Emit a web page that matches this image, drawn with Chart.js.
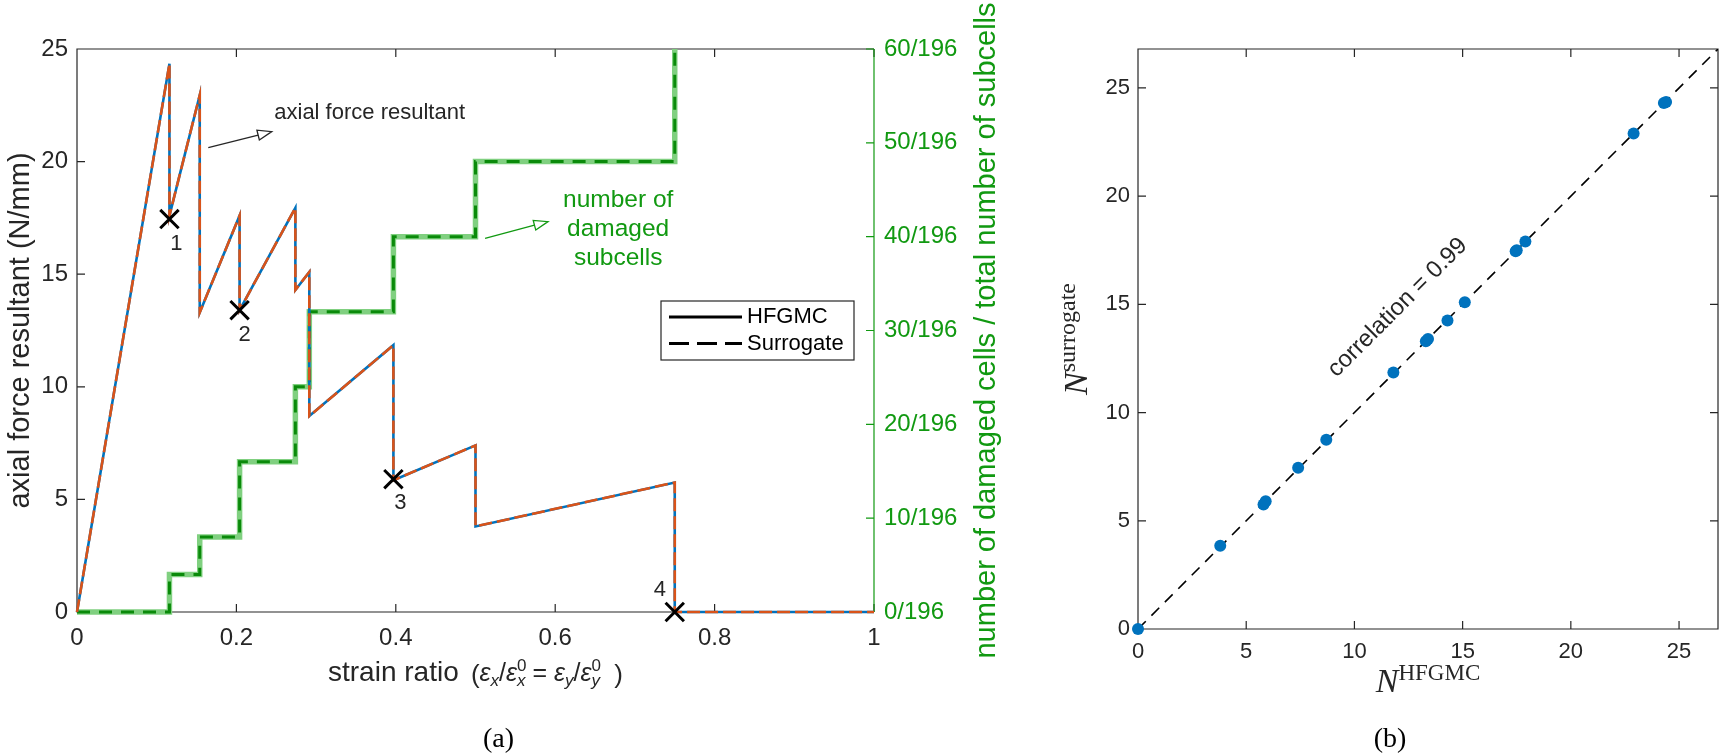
<!DOCTYPE html>
<html lang="en">
<head>
<meta charset="UTF-8">
<title>Axial force resultant and damaged subcells</title>
<script src="https://cdn.jsdelivr.net/npm/chart.js"></script>
<style>
    body { margin: 0; background: #fff; }
    #panelA { position: absolute; left: 0; top: 0; width: 1010px; height: 754px; }
    #panelB { position: absolute; left: 1010px; top: 0; width: 715px; height: 754px; }
</style>
</head>
<body>

<div id="panelA"><canvas id="forceChart"></canvas></div>
<div id="panelB"><canvas id="corrChart"></canvas></div>

<script>
// ---- panel (a): force resultant vs strain ratio ----
const strain         = [0, 0.116, 0.116, 0.154, 0.154, 0.204, 0.204, 0.274, 0.274, 0.2915, 0.2915, 0.397, 0.397, 0.5, 0.5, 0.75, 0.75, 1];
const forceHFGMC     = [0, 24.35, 17.6, 22.95, 13.3, 17.6, 13.4, 17.95, 14.3, 15.1, 8.7, 11.85, 5.85, 7.4, 3.8, 5.75, 0, 0];
const forceSurrogate = [0, 24.35, 17.6, 22.95, 13.3, 17.6, 13.4, 17.95, 14.3, 15.1, 8.7, 11.85, 5.85, 7.4, 3.8, 5.75, 0, 0];

// damaged subcells (out of 196), step changes
const damageStrain     = [0, 0.116, 0.154, 0.204, 0.274, 0.2915, 0.397, 0.5, 0.75];
const damagedHFGMC     = [0, 4, 8, 16, 24, 32, 40, 48, 66];
const damagedSurrogate = [0, 4, 8, 16, 24, 32, 40, 48, 66];

// marked states 1..4
const markStrain = [0.116, 0.204, 0.397, 0.75];
const markForce  = [17.45, 13.4, 5.9, 0];
const markLabels = ['1', '2', '3', '4'];

// ---- panel (b): surrogate vs HFGMC force ----
const nHFGMC     = [0, 3.8, 5.8, 5.9, 7.4, 8.7, 11.8, 13.3, 13.4, 14.3, 15.1, 17.45, 17.5, 17.9, 22.9, 24.3, 24.4];
const nSurrogate = [0, 3.85, 5.75, 5.9, 7.45, 8.75, 11.85, 13.3, 13.4, 14.25, 15.1, 17.45, 17.5, 17.9, 22.9, 24.3, 24.35];
const nLimit = 26.8;
const diagLine = [0, nLimit];
const correlation = 0.99;

// ---- styles ----
const ink = '#262626';
const green = '#119911';
const darkGreen = '#0a8a0a';
const lightGreen = '#80d080';
const orange = '#D95319';
const blue = '#0072BD';
const sans = '"Liberation Sans", Arial, sans-serif';
const serif = '"Liberation Serif", "Times New Roman", serif';
const tickLen = 8;

const pts = (xs, ys) => xs.map((x, i) => ({ x: x, y: ys[i] }));

function arrow(ctx, x0, y0, x1, y1, color) {
    const len = Math.hypot(x1 - x0, y1 - y0);
    const ux = (x1 - x0) / len, uy = (y1 - y0) / len;
    const L = 14, W = 5;
    const bx = x1 - ux * L, by = y1 - uy * L;
    ctx.save();
    ctx.strokeStyle = color;
    ctx.lineWidth = 1.3;
    ctx.beginPath();
    ctx.moveTo(x0, y0);
    ctx.lineTo(bx, by);
    ctx.stroke();
    ctx.beginPath();
    ctx.moveTo(x1, y1);
    ctx.lineTo(bx - uy * W, by + ux * W);
    ctx.lineTo(bx + uy * W, by - ux * W);
    ctx.closePath();
    ctx.fillStyle = '#fff';
    ctx.fill();
    ctx.stroke();
    ctx.restore();
}

// text made of runs (sub/superscripts), drawn from x along baseline y
function runsWidth(ctx, runs) {
    let w = 0;
    runs.forEach(r => { ctx.font = r.font; if (r.adv !== false) w += ctx.measureText(r.t).width; });
    return w;
}
function drawRuns(ctx, runs, x, y) {
    ctx.textAlign = 'left';
    ctx.textBaseline = 'alphabetic';
    runs.forEach(r => {
        ctx.font = r.font;
        ctx.fillText(r.t, x, y + (r.dy || 0));
        if (r.adv !== false) x += ctx.measureText(r.t).width;
    });
}

const F = 25, S = 17;
const strainTitle = [
    { t: 'strain ratio', font: `28px ${sans}` },
    { t: '  ', font: `22px ${sans}` },
    { t: '(', font: `26px ${sans}`, dy: 2 },
    { t: 'ε', font: `italic ${F}px ${sans}` },
    { t: 'x', font: `italic ${S}px ${sans}`, dy: 5 },
    { t: '/', font: `${F}px ${sans}` },
    { t: 'ε', font: `italic ${F}px ${sans}` },
    { t: '0', font: `${S}px ${sans}`, dy: -10, adv: false },
    { t: 'x', font: `italic ${S}px ${sans}`, dy: 5 },
    { t: ' = ', font: `${F}px ${sans}` },
    { t: 'ε', font: `italic ${F}px ${sans}` },
    { t: 'y', font: `italic ${S}px ${sans}`, dy: 5 },
    { t: '/', font: `${F}px ${sans}` },
    { t: 'ε', font: `italic ${F}px ${sans}` },
    { t: '0', font: `${S}px ${sans}`, dy: -10, adv: false },
    { t: 'y', font: `italic ${S}px ${sans}`, dy: 5 },
    { t: '  )', font: `26px ${sans}`, dy: 2 }
];
const titleHFGMC = [
    { t: 'N', font: `italic 34px ${serif}` },
    { t: 'HFGMC', font: `23px ${serif}`, dy: -12 }
];
const titleSurrogate = [
    { t: 'N', font: `italic 34px ${serif}` },
    { t: 'surrogate', font: `24px ${serif}`, dy: -12 }
];

// ---------- panel (a) drawing ----------
const panelAPlugin = {
    id: 'panelAPlugin',
    beforeDatasetsDraw(chart) {
        const { ctx, chartArea: a, scales: { x, y, y2 } } = chart;
        ctx.save();
        ctx.lineWidth = 1.2;
        ctx.strokeStyle = ink;
        ctx.beginPath();
        x.ticks.forEach(t => {
            const px = x.getPixelForValue(t.value);
            ctx.moveTo(px, a.bottom); ctx.lineTo(px, a.bottom - tickLen);
            ctx.moveTo(px, a.top); ctx.lineTo(px, a.top + tickLen);
        });
        y.ticks.forEach(t => {
            const py = y.getPixelForValue(t.value);
            ctx.moveTo(a.left, py); ctx.lineTo(a.left + tickLen, py);
        });
        ctx.moveTo(a.right, a.top); ctx.lineTo(a.left, a.top);
        ctx.lineTo(a.left, a.bottom); ctx.lineTo(a.right, a.bottom);
        ctx.stroke();
        ctx.strokeStyle = green;
        ctx.beginPath();
        y2.ticks.forEach(t => {
            const py = y2.getPixelForValue(t.value);
            ctx.moveTo(a.right, py); ctx.lineTo(a.right - tickLen, py);
        });
        ctx.moveTo(a.right, a.top); ctx.lineTo(a.right, a.bottom);
        ctx.stroke();
        ctx.restore();
    },
    afterDraw(chart) {
        const { ctx, chartArea: a, scales: { x, y, y2 } } = chart;
        ctx.save();

        // marker numbers
        const offs = [[7, 25], [5, 25], [7, 24], [-15, -22]];
        ctx.fillStyle = ink;
        ctx.font = `22px ${sans}`;
        ctx.textAlign = 'center';
        ctx.textBaseline = 'middle';
        markLabels.forEach((lab, i) => {
            ctx.fillText(lab, x.getPixelForValue(markStrain[i]) + offs[i][0], y.getPixelForValue(markForce[i]) + offs[i][1]);
        });

        // "axial force resultant" note
        ctx.textAlign = 'left';
        ctx.fillText('axial force resultant', x.getPixelForValue(0.2475), y.getPixelForValue(22.17));
        arrow(ctx, x.getPixelForValue(0.1647), y.getPixelForValue(20.62),
                   x.getPixelForValue(0.2443), y.getPixelForValue(21.33), ink);

        // damaged subcells note
        ctx.fillStyle = green;
        ctx.font = `24.5px ${sans}`;
        ctx.textAlign = 'center';
        ['number of', 'damaged', 'subcells'].forEach((line, i) => {
            ctx.fillText(line, x.getPixelForValue(0.679), y2.getPixelForValue([43.9, 40.8, 37.7][i]));
        });
        arrow(ctx, x.getPixelForValue(0.512), y2.getPixelForValue(39.83),
                   x.getPixelForValue(0.591), y2.getPixelForValue(41.6), green);

        // legend
        const bw = 193, bh = 59;
        const bx = a.right - 20 - bw, by = (a.top + a.bottom) / 2 - bh / 2;
        ctx.fillStyle = '#fff';
        ctx.fillRect(bx, by, bw, bh);
        ctx.strokeStyle = ink;
        ctx.lineWidth = 1.2;
        ctx.strokeRect(bx, by, bw, bh);
        ctx.strokeStyle = '#000';
        ctx.lineWidth = 3;
        ctx.beginPath(); ctx.moveTo(bx + 8, by + 16); ctx.lineTo(bx + 81, by + 16); ctx.stroke();
        ctx.setLineDash([20, 8]);
        ctx.beginPath(); ctx.moveTo(bx + 8, by + 42.5); ctx.lineTo(bx + 81, by + 42.5); ctx.stroke();
        ctx.setLineDash([]);
        ctx.fillStyle = '#000';
        ctx.font = `22px ${sans}`;
        ctx.textAlign = 'left';
        ctx.textBaseline = 'middle';
        ctx.fillText('HFGMC', bx + 86, by + 16);
        ctx.fillText('Surrogate', bx + 86, by + 42.5);

        // right axis title, reading upward
        ctx.save();
        ctx.translate(a.right + 113, (a.top + a.bottom) / 2);
        ctx.rotate(-Math.PI / 2);
        ctx.fillStyle = green;
        ctx.font = `29px ${sans}`;
        ctx.textAlign = 'center';
        ctx.textBaseline = 'middle';
        ctx.fillText('number of damaged cells / total number of subcells', 0, 0);
        ctx.restore();

        // x axis title
        ctx.fillStyle = ink;
        const w = runsWidth(ctx, strainTitle);
        drawRuns(ctx, strainTitle, (a.left + a.right) / 2 - w / 2, a.bottom + 69);

        // caption
        ctx.fillStyle = '#000';
        ctx.font = `28px ${serif}`;
        ctx.textAlign = 'center';
        ctx.textBaseline = 'middle';
        ctx.fillText('(a)', (a.left + a.right) / 2 + 23, 740);
        ctx.restore();
    }
};

new Chart(document.getElementById('forceChart'), {
    type: 'scatter',
    data: {
        datasets: [
            {
                label: 'marks',
                data: pts(markStrain, markForce),
                pointStyle: 'crossRot',
                pointRadius: 13,
                pointBorderWidth: 3,
                borderColor: '#000',
                backgroundColor: '#000',
                clip: false,
                yAxisID: 'y'
            },
            {
                label: 'Surrogate force',
                data: pts(strain, forceSurrogate),
                showLine: true,
                borderColor: orange,
                borderWidth: 2.6,
                borderDash: [13, 5],
                pointRadius: 0,
                clip: 3,
                yAxisID: 'y'
            },
            {
                label: 'HFGMC force',
                data: pts(strain, forceHFGMC),
                showLine: true,
                borderColor: blue,
                borderWidth: 2.6,
                pointRadius: 0,
                clip: 3,
                yAxisID: 'y'
            },
            {
                label: 'Surrogate damaged',
                data: pts(damageStrain, damagedSurrogate),
                showLine: true,
                stepped: 'before',
                borderColor: darkGreen,
                borderWidth: 3,
                borderDash: [13, 9],
                pointRadius: 0,
                clip: { left: 4, right: 4, bottom: 4, top: 0 },
                yAxisID: 'y2'
            },
            {
                label: 'HFGMC damaged',
                data: pts(damageStrain, damagedHFGMC),
                showLine: true,
                stepped: 'before',
                borderColor: lightGreen,
                borderWidth: 5.5,
                pointRadius: 0,
                clip: { left: 4, right: 4, bottom: 4, top: 0 },
                yAxisID: 'y2'
            }
        ]
    },
    options: {
        responsive: true,
        maintainAspectRatio: false,
        animation: false,
        layout: { padding: { top: 49, left: 0, right: 0, bottom: 0 } },
        plugins: { legend: { display: false }, tooltip: { enabled: false } },
        scales: {
            x: {
                type: 'linear', min: 0, max: 1,
                ticks: { stepSize: 0.2, color: ink, font: { family: sans, size: 24 }, padding: 12, maxRotation: 0,
                         callback: v => String(Number(v.toFixed(2))) },
                grid: { display: false, drawTicks: false },
                border: { display: false },
                afterFit: s => { s.height = 142; }
            },
            y: {
                position: 'left', min: 0, max: 25,
                ticks: { stepSize: 5, color: ink, font: { family: sans, size: 24 }, padding: 9 },
                grid: { display: false, drawTicks: false },
                border: { display: false },
                title: { display: true, text: 'axial force resultant (N/mm)', color: ink, font: { family: sans, size: 29 }, padding: { top: 4, bottom: 0 } },
                afterFit: s => { s.width = 77; }
            },
            y2: {
                position: 'right', min: 0, max: 60,
                ticks: { stepSize: 10, color: green, font: { family: sans, size: 24 }, padding: 10, callback: v => v + '/196' },
                grid: { display: false, drawTicks: false },
                border: { display: false },
                afterFit: s => { s.width = 136; }
            }
        }
    },
    plugins: [panelAPlugin]
});

// ---------- panel (b) drawing ----------
const panelBPlugin = {
    id: 'panelBPlugin',
    beforeDatasetsDraw(chart) {
        const { ctx, chartArea: a, scales: { x, y } } = chart;
        ctx.save();
        ctx.lineWidth = 1.2;
        ctx.strokeStyle = ink;
        ctx.beginPath();
        x.ticks.forEach(t => {
            const px = x.getPixelForValue(t.value);
            ctx.moveTo(px, a.bottom); ctx.lineTo(px, a.bottom - tickLen);
            ctx.moveTo(px, a.top); ctx.lineTo(px, a.top + tickLen);
        });
        y.ticks.forEach(t => {
            const py = y.getPixelForValue(t.value);
            ctx.moveTo(a.left, py); ctx.lineTo(a.left + tickLen, py);
            ctx.moveTo(a.right, py); ctx.lineTo(a.right - tickLen, py);
        });
        ctx.rect(a.left, a.top, a.right - a.left, a.bottom - a.top);
        ctx.stroke();
        ctx.restore();
    },
    afterDraw(chart) {
        const { ctx, chartArea: a, scales: { x, y } } = chart;
        ctx.save();
        ctx.fillStyle = ink;

        // correlation note along the diagonal
        ctx.save();
        ctx.translate(x.getPixelForValue(12.0), y.getPixelForValue(14.85));
        ctx.rotate(-Math.PI / 4);
        ctx.font = `24px ${sans}`;
        ctx.textAlign = 'center';
        ctx.textBaseline = 'middle';
        ctx.fillText('correlation = ' + correlation.toFixed(2), 0, 0);
        ctx.restore();

        // x title
        const wx = runsWidth(ctx, titleHFGMC);
        drawRuns(ctx, titleHFGMC, (a.left + a.right) / 2 - wx / 2, a.bottom + 63);

        // y title
        ctx.save();
        ctx.translate(a.left - 51, (a.top + a.bottom) / 2);
        ctx.rotate(-Math.PI / 2);
        const wy = runsWidth(ctx, titleSurrogate);
        drawRuns(ctx, titleSurrogate, -wy / 2, 0);
        ctx.restore();

        // caption
        ctx.fillStyle = '#000';
        ctx.font = `28px ${serif}`;
        ctx.textAlign = 'center';
        ctx.textBaseline = 'middle';
        ctx.fillText('(b)', (a.left + a.right) / 2 - 38, 740);
        ctx.restore();
    }
};

new Chart(document.getElementById('corrChart'), {
    type: 'scatter',
    data: {
        datasets: [
            {
                label: 'predictions',
                data: pts(nHFGMC, nSurrogate),
                pointRadius: 6,
                pointBorderWidth: 0,
                backgroundColor: blue,
                borderColor: blue,
                clip: false
            },
            {
                label: 'identity',
                data: pts(diagLine, diagLine),
                showLine: true,
                borderColor: '#000',
                borderWidth: 1.6,
                borderDash: [11, 8],
                pointRadius: 0
            }
        ]
    },
    options: {
        responsive: true,
        maintainAspectRatio: false,
        animation: false,
        layout: { padding: { top: 49, left: 0, right: 7, bottom: 0 } },
        plugins: { legend: { display: false }, tooltip: { enabled: false } },
        scales: {
            x: {
                type: 'linear', min: 0, max: nLimit,
                ticks: { stepSize: 5, includeBounds: false, color: ink, font: { family: sans, size: 22 }, padding: 10, maxRotation: 0 },
                grid: { display: false, drawTicks: false },
                border: { display: false },
                afterFit: s => { s.height = 125; }
            },
            y: {
                type: 'linear', min: 0, max: nLimit,
                ticks: { stepSize: 5, includeBounds: false, color: ink, font: { family: sans, size: 22 }, padding: 8 },
                grid: { display: false, drawTicks: false },
                border: { display: false },
                afterFit: s => { s.width = 128; }
            }
        }
    },
    plugins: [panelBPlugin]
});
</script>

</body>
</html>
